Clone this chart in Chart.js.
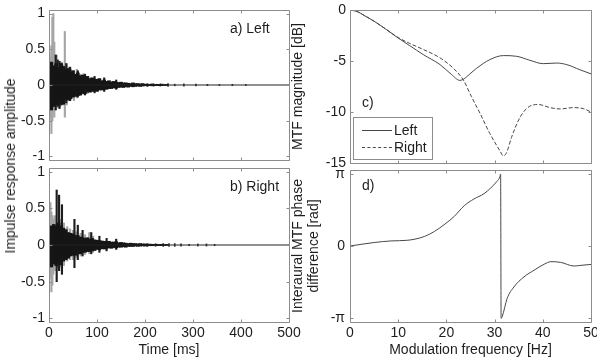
<!DOCTYPE html>
<html><head><meta charset="utf-8">
<script src="https://cdn.jsdelivr.net/npm/chart.js@4.4.1/dist/chart.umd.min.js"></script>
<style>
html,body{margin:0;padding:0;background:#fff;}
#wrap{position:relative;width:597px;height:359px;overflow:hidden;background:#fff;font-family:"Liberation Sans",Arial,sans-serif;color:#1e1e1e;}
#wrap canvas{position:absolute;left:0;top:0;}
.lbl{position:absolute;font-size:14px;line-height:16px;white-space:nowrap;}
#leg{position:absolute;left:353px;top:117px;width:78px;height:41px;border:1px solid #8c8c8c;background:#fff;}
#leg .row{position:absolute;left:0;height:16px;font-size:14px;line-height:16px;}
#leg .smp{position:absolute;left:8px;top:8px;width:30px;height:0;border-top:1px solid #474747;}
#leg .txt{position:absolute;left:40px;top:0;}
</style></head>
<body><div id="wrap">
<canvas id="cA" width="597" height="359"></canvas>
<canvas id="cB" width="597" height="359"></canvas>
<canvas id="cC" width="597" height="359"></canvas>
<canvas id="cD" width="597" height="359"></canvas>
<div class="lbl" style="left:10px;top:166px;transform:translate(-50%,-50%) rotate(-90deg);">Impulse response amplitude</div>
<div class="lbl" style="left:230px;top:20px;">a) Left</div>
<div class="lbl" style="left:230px;top:178px;">b) Right</div>
<div class="lbl" style="left:362px;top:94px;">c)</div>
<div class="lbl" style="left:362px;top:177px;">d)</div>
<div id="leg">
  <div class="row" style="top:4px;"><span class="smp"></span><span class="txt">Left</span></div>
  <div class="row" style="top:21px;"><span class="smp" style="border-top-style:dashed;"></span><span class="txt">Right</span></div>
</div>
</div>
<script>
// ---------- tick values / labels ----------
const timeTicks = [0, 100, 200, 300, 400, 500];
const timeTickLabels = ['0', '100', '200', '300', '400', '500'];
const ampTicks = [-1, -0.5, 0, 0.5, 1];
const ampTickLabels = ['-1', '-0.5', '0', '0.5', '1'];
const freqTicks = [0, 10, 20, 30, 40, 50];
const freqTickLabels = ['0', '10', '20', '30', '40', '50'];
const magTicks = [-15, -10, -5, 0];
const magTickLabels = ['-15', '-10', '-5', '0'];
const phaseTicks = [-Math.PI, 0, Math.PI];
const phaseTickLabels = ['-π', '0', 'π'];

// ---------- impulse responses (envelopes) ----------
const timeBins = [0,5,10,15,20,25,30,35,40,45,50,55,60,65,70,75,80,85,90,95,100,105,110,115,120,125,130,135,140,145,150,155,160,165,170,175,180,185,190,195,200,205,210,215,220,225,230,235,240,245];
const leftHigh = [0.06,0.32,0.27,0.30,0.24,0.30,0.26,0.22,0.23,0.18,0.20,0.15,0.17,0.13,0.14,0.11,0.12,0.09,0.10,0.08,0.08,0.09,0.06,0.07,0.05,0.06,0.045,0.05,0.04,0.035,0.04,0.03,0.03,0.025,0.02,0.03,0.02,0.02,0.015,0.02,0.012,0.01,0.01,0.015,0.008,0.01,0.008,0.012,0.006,0.008];
const leftLow = [-0.08,-0.35,-0.30,-0.27,-0.28,-0.25,-0.27,-0.20,-0.21,-0.19,-0.17,-0.16,-0.15,-0.14,-0.12,-0.12,-0.10,-0.10,-0.09,-0.08,-0.09,-0.07,-0.07,-0.06,-0.06,-0.05,-0.05,-0.04,-0.045,-0.035,-0.03,-0.035,-0.025,-0.03,-0.02,-0.025,-0.02,-0.015,-0.02,-0.015,-0.01,-0.012,-0.008,-0.012,-0.01,-0.008,-0.01,-0.008,-0.006,-0.006];
const rightHigh = [0.12,0.26,0.28,0.26,0.30,0.26,0.23,0.21,0.17,0.16,0.15,0.13,0.13,0.11,0.10,0.09,0.10,0.08,0.09,0.07,0.065,0.06,0.055,0.05,0.045,0.05,0.04,0.04,0.045,0.03,0.035,0.03,0.025,0.02,0.025,0.02,0.02,0.015,0.02,0.015,0.015,0.01,0.012,0.01,0.008,0.01,0.008,0.01,0.006,0.008];
const rightLow = [-0.15,-0.30,-0.26,-0.28,-0.25,-0.27,-0.22,-0.20,-0.18,-0.15,-0.14,-0.14,-0.12,-0.12,-0.10,-0.10,-0.09,-0.09,-0.08,-0.075,-0.06,-0.065,-0.05,-0.055,-0.045,-0.04,-0.045,-0.035,-0.04,-0.03,-0.03,-0.025,-0.03,-0.02,-0.02,-0.02,-0.015,-0.018,-0.015,-0.012,-0.015,-0.01,-0.01,-0.01,-0.008,-0.008,-0.008,-0.008,-0.006,-0.006];

const leftGreyT  = [1,3,5,7,9,11,13,16,19,23,27,30,33,37,41,46,52,58,65,72,80,88];
const leftGreyHi = [0.45,0.40,0.55,0.95,1.00,0.60,0.40,0.42,0.35,0.30,0.32,0.28,0.75,0.30,0.25,0.22,0.20,0.22,0.15,0.16,0.12,0.10];
const leftGreyLo = [-0.50,-0.45,-0.68,-0.50,-0.30,-0.45,-0.35,-0.30,-0.32,-0.30,-0.25,-0.28,-0.45,-0.28,-0.22,-0.20,-0.22,-0.18,-0.15,-0.13,-0.12,-0.10];
const leftBlackT  = [14,18,22,26,36,44,60,75,95,115,140];
const leftBlackHi = [0.42,0.35,0.33,0.30,0.30,0.25,0.20,0.15,0.12,0.10,0.07];
const leftBlackLo = [-0.35,-0.30,-0.33,-0.28,-0.25,-0.22,-0.17,-0.14,-0.11,-0.09,-0.06];
const leftTailT  = [205,218,232,248,262,281,306,330,355,382,410];
const leftTailHi = [0.02,0.015,0.015,0.02,0.012,0.015,0.012,0.01,0.008,0.01,0.008];
const leftTailLo = [-0.02,-0.015,-0.015,-0.02,-0.012,-0.015,-0.012,-0.01,-0.008,-0.01,-0.008];

const rightGreyT  = [1,3,5,7,9,12,18,24,31,38,44,50,57,66,75,84,92];
const rightGreyHi = [0.50,0.58,0.45,0.40,0.35,0.40,0.30,0.35,0.30,0.25,0.22,0.20,0.18,0.16,0.14,0.17,0.12];
const rightGreyLo = [-0.30,-0.45,-0.64,-0.55,-0.40,-0.35,-0.30,-0.30,-0.28,-0.22,-0.20,-0.20,-0.17,-0.15,-0.13,-0.12,-0.10];
const rightBlackT  = [16,21,27,53,60,70,88,105,120,140];
const rightBlackHi = [0.75,0.68,0.55,0.35,0.27,0.20,0.17,0.12,0.09,0.08];
const rightBlackLo = [-0.50,-0.35,-0.40,-0.31,-0.20,-0.15,-0.12,-0.10,-0.08,-0.06];
const rightTailT  = [205,222,238,250,262,275,292,310,328,345];
const rightTailHi = [0.02,0.018,0.02,0.018,0.02,0.015,0.01,0.015,0.015,0.01];
const rightTailLo = [-0.02,-0.018,-0.02,-0.018,-0.02,-0.015,-0.01,-0.015,-0.015,-0.01];

const baseT = [0, 500];
const baseV = [0, 0];

// ---------- MTF magnitude ----------
const magLeftF = [0,1.5,3,5,7.5,10,12.4,15.2,18.7,21,22.8,23.5,24.8,26.3,29,31.8,34.6,37.3,40.1,42.9,45,47.7,50];
const magLeft  = [0,-0.15,-0.55,-1.1,-1.9,-2.75,-3.5,-4.37,-5.36,-6.3,-6.9,-6.8,-6.3,-5.7,-4.87,-4.47,-4.54,-4.93,-5.26,-5.2,-5.36,-5.86,-6.26];
const magRightF = [0,1.5,3,5,7.5,10,12.4,15.2,18.7,21.4,23.5,25.2,27,29,31.1,31.8,32.5,33.5,35.3,37.3,39.1,41.5,43.6,46.3,48.4,50];
const magRight  = [0,-0.15,-0.55,-1.1,-1.9,-2.7,-3.28,-3.87,-4.7,-5.7,-6.85,-8.5,-10.15,-12.1,-13.8,-14.3,-13.97,-12.5,-10.5,-9.43,-9.27,-9.57,-9.7,-9.57,-9.67,-10];

// ---------- interaural phase ----------
const phaseF = [0,5,8.5,12,15.4,17.5,19.5,21.6,23.7,25.7,27.8,29.2,30.5,31.1,31.25,31.35,31.6,32.6,34,36.1,38.2,40.3,41.7,43.7,46.5,47.9,50];
const phase  = [0,0.15,0.22,0.25,0.41,0.63,0.92,1.28,1.75,2.04,2.27,2.52,2.81,3.0,3.12,-3.14,-3.05,-2.28,-1.78,-1.34,-1.05,-0.79,-0.68,-0.71,-0.87,-0.84,-0.8];

// ---------- helpers ----------
const W = 597, H = 359;
const TXT = '#1e1e1e', BOX = '#8c8c8c', LINE = '#474747';
const FONT = {family: '"Liberation Sans", Arial, sans-serif', size: 14, lineHeight: 1.2};
const pts = (xs, ys) => xs.map((x, i) => ({x: x, y: ys[i]}));
const rng = (xs, lo, hi) => xs.map((x, i) => ({x: x, y: [lo[i], hi[i]]}));

const boxPlugin = {
  id: 'mbox',
  afterDatasetsDraw(chart) {
    const {ctx, chartArea: a} = chart;
    const xs = chart.scales.x, ys = chart.scales.y;
    const L = Math.round(a.left) + 0.5, R = Math.round(a.right) + 0.5;
    const T = Math.round(a.top) + 0.5, B = Math.round(a.bottom) + 0.5;
    const tl = 3;
    ctx.save();
    ctx.strokeStyle = BOX; ctx.lineWidth = 1;
    ctx.beginPath();
    ctx.rect(L, T, R - L, B - T);
    xs.ticks.forEach(t => {
      const p = Math.round(xs.getPixelForValue(t.value)) + 0.5;
      ctx.moveTo(p, B); ctx.lineTo(p, B - tl);
      ctx.moveTo(p, T); ctx.lineTo(p, T + tl);
    });
    ys.ticks.forEach(t => {
      const p = Math.round(ys.getPixelForValue(t.value)) + 0.5;
      ctx.moveTo(L, p); ctx.lineTo(L + tl, p);
      ctx.moveTo(R, p); ctx.lineTo(R - tl, p);
    });
    ctx.stroke();
    ctx.restore();
  }
};

function xScale(o) {
  return {
    type: 'linear', position: 'bottom', min: o.min, max: o.max, offset: false, bounds: 'data',
    grid: {display: false, drawTicks: false}, border: {display: false},
    afterBuildTicks(s) { s.ticks = o.ticks.map(v => ({value: v})); },
    ticks: {display: o.show, autoSkip: false, maxRotation: 0, padding: 3, color: TXT, font: FONT,
            callback: (v, i) => o.labels[i]},
    title: {display: !!o.title, text: o.title || '', color: TXT, font: FONT, padding: {top: 0, bottom: 0}},
    afterFit(s) { s.height = H - o.box.b; s.paddingLeft = 0; s.paddingRight = 0; }
  };
}
function yScale(o) {
  return {
    type: 'linear', position: 'left', min: o.min, max: o.max, bounds: 'data',
    grid: {display: false, drawTicks: false}, border: {display: false},
    afterBuildTicks(s) { s.ticks = o.ticks.map(v => ({value: v})); },
    ticks: {autoSkip: false, padding: o.pad, color: TXT, font: FONT, callback: (v, i) => o.labels[i]},
    title: {display: !!o.title, text: o.title || '', color: TXT,
            font: {family: FONT.family, size: 14, lineHeight: 16 / 14}, padding: {top: 0, bottom: 0}},
    afterFit(s) { s.width = o.box.l - o.L; s.paddingTop = 0; s.paddingBottom = 0; }
  };
}
function baseOptions(box, L, xs, ys) {
  return {
    responsive: false, animation: false, events: [], devicePixelRatio: 1,
    layout: {padding: {left: L, top: box.t, right: W - box.r, bottom: 0}},
    plugins: {legend: {display: false}, tooltip: {enabled: false}},
    scales: {x: xs, y: ys}
  };
}

function impulseChart(id, box, showX, core, black, tail, grey) {
  const xs = xScale({min: 0, max: 500, ticks: timeTicks, labels: timeTickLabels, show: showX,
                     title: showX ? 'Time [ms]' : '', box: box});
  const ys = yScale({min: -1.05, max: 1.05, ticks: ampTicks, labels: ampTickLabels, pad: 4, box: box, L: 0});
  return new Chart(document.getElementById(id), {
    type: 'bar',
    data: {datasets: [
      {type: 'line', data: pts(baseT, baseV), borderColor: '#222', borderWidth: 1, pointRadius: 0, order: 0},
      {data: core, backgroundColor: '#151515', barThickness: 3, grouped: false, order: 1},
      {data: black, backgroundColor: '#1e1e1e', barThickness: 1.5, grouped: false, order: 2},
      {data: tail, backgroundColor: '#3a3a3a', barThickness: 1, grouped: false, order: 3},
      {data: grey, backgroundColor: '#a6a6a6', barThickness: 1.5, grouped: false, order: 4}
    ]},
    options: baseOptions(box, 0, xs, ys),
    plugins: [boxPlugin]
  });
}

const boxA = {l: 49, t: 10, r: 289, b: 160};
const boxB = {l: 49, t: 168, r: 289, b: 322};
const boxC = {l: 350, t: 10, r: 591, b: 163};
const boxD = {l: 350, t: 170, r: 591, b: 322};

impulseChart('cA', boxA, false, rng(timeBins, leftLow, leftHigh), rng(leftBlackT, leftBlackLo, leftBlackHi),
             rng(leftTailT, leftTailLo, leftTailHi), rng(leftGreyT, leftGreyLo, leftGreyHi));
impulseChart('cB', boxB, true, rng(timeBins, rightLow, rightHigh), rng(rightBlackT, rightBlackLo, rightBlackHi),
             rng(rightTailT, rightTailLo, rightTailHi), rng(rightGreyT, rightGreyLo, rightGreyHi));

new Chart(document.getElementById('cC'), {
  type: 'line',
  data: {datasets: [
    {label: 'Left', data: pts(magLeftF, magLeft), borderColor: LINE, borderWidth: 1, pointRadius: 0,
     cubicInterpolationMode: 'monotone'},
    {label: 'Right', data: pts(magRightF, magRight), borderColor: LINE, borderWidth: 1, pointRadius: 0,
     borderDash: [4, 2], cubicInterpolationMode: 'monotone'}
  ]},
  options: baseOptions(boxC, 290,
    xScale({min: 0, max: 50, ticks: freqTicks, labels: freqTickLabels, show: false, box: boxC}),
    yScale({min: -15, max: 0, ticks: magTicks, labels: magTickLabels, pad: 4, box: boxC, L: 290,
            title: 'MTF magnitude [dB]'})),
  plugins: [boxPlugin]
});

new Chart(document.getElementById('cD'), {
  type: 'line',
  data: {datasets: [
    {label: 'Phase', data: pts(phaseF, phase), borderColor: LINE, borderWidth: 1, pointRadius: 0,
     cubicInterpolationMode: 'monotone'}
  ]},
  options: baseOptions(boxD, 290,
    xScale({min: 0, max: 50, ticks: freqTicks, labels: freqTickLabels, show: true,
            title: 'Modulation frequency [Hz]', box: boxD}),
    yScale({min: -3.3, max: 3.3, ticks: phaseTicks, labels: phaseTickLabels, pad: 5, box: boxD, L: 290,
            title: ['Interaural MTF phase', 'difference [rad]']})),
  plugins: [boxPlugin]
});
</script>
</body></html>
